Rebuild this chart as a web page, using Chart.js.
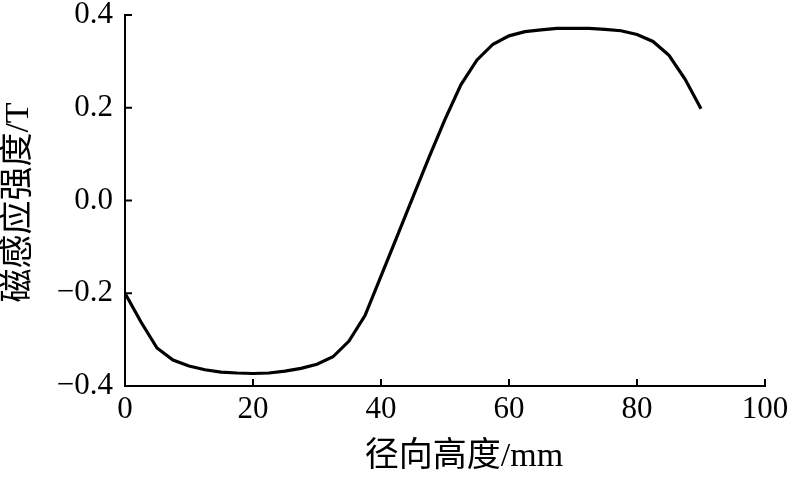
<!DOCTYPE html>
<html>
<head>
<meta charset="utf-8">
<script src="https://cdn.jsdelivr.net/npm/chart.js@4/dist/chart.umd.min.js"></script>
<style>
  html, body { margin: 0; padding: 0; background: #fff; }
  #wrap { width: 800px; height: 480px; }
</style>
</head>
<body>
<div id="wrap"><canvas id="c" width="800" height="480"></canvas></div>
<script>
// Data
const heights = [0, 2.5, 5, 7.5, 10, 12.5, 15, 17.5, 20, 22.5, 25, 27.5, 30, 32.5, 35, 37.5, 40, 42.5, 45, 47.5, 50, 52.5, 55, 57.5, 60, 62.5, 65, 67.5, 70, 72.5, 75, 77.5, 80, 82.5, 85, 87.5, 90];
const fluxDensity = [-0.200, -0.262, -0.318, -0.344, -0.357, -0.365, -0.370, -0.372, -0.373, -0.372, -0.368, -0.362, -0.353, -0.337, -0.303, -0.248, -0.163, -0.078, 0.008, 0.093, 0.175, 0.250, 0.303, 0.337, 0.355, 0.364, 0.368, 0.371, 0.371, 0.371, 0.369, 0.366, 0.358, 0.343, 0.313, 0.262, 0.198];
const xTickValues = [0, 20, 40, 60, 80, 100];
const yTickValues = [-0.4, -0.2, 0.0, 0.2, 0.4];
const xTitle = '径向高度/mm';
const yTitle = '磁感应强度/T';

const tickFont = { family: '"Liberation Serif", "Times New Roman", serif', size: 31 };
const titleFontStr = '34px "Liberation Serif", "Noto Sans CJK SC", serif';

const points = heights.map((h, i) => ({ x: h, y: fluxDensity[i] }));

const decorPlugin = {
  id: 'decor',
  afterDraw(chart) {
    const { ctx, chartArea, scales } = chart;
    const xs = scales.x, ys = scales.y;
    ctx.save();
    ctx.strokeStyle = '#000';
    ctx.lineWidth = 2;
    // inward tick marks
    xs.ticks.forEach(t => {
      const px = xs.getPixelForValue(t.value);
      ctx.beginPath();
      ctx.moveTo(px, chartArea.bottom);
      ctx.lineTo(px, chartArea.bottom - 7);
      ctx.stroke();
    });
    ys.ticks.forEach(t => {
      const py = ys.getPixelForValue(t.value);
      ctx.beginPath();
      ctx.moveTo(chartArea.left, py);
      ctx.lineTo(chartArea.left + 7, py);
      ctx.stroke();
    });
    // axis titles
    ctx.fillStyle = '#000';
    ctx.font = titleFontStr;
    ctx.textAlign = 'center';
    ctx.textBaseline = 'middle';
    ctx.fillText(xTitle, chartArea.left + 339, 457);
    ctx.translate(19, (chartArea.top + chartArea.bottom) / 2 + 2);
    ctx.rotate(-Math.PI / 2);
    ctx.fillText(yTitle, 0, 0);
    ctx.restore();
  }
};

new Chart(document.getElementById('c'), {
  type: 'scatter',
  data: {
    datasets: [{
      data: points,
      showLine: true,
      borderColor: '#000',
      borderWidth: 3.2,
      pointRadius: 0,
      pointHoverRadius: 0,
      tension: 0,
      fill: false
    }]
  },
  options: {
    responsive: false,
    animation: false,
    events: [],
    layout: { padding: { left: 0, top: 15, right: 35, bottom: 0 } },
    plugins: { legend: { display: false }, tooltip: { enabled: false } },
    scales: {
      x: {
        type: 'linear',
        min: 0, max: 100,
        afterFit: s => { s.height = 94; s.paddingLeft = 0; s.paddingRight = 0; },
        afterBuildTicks: s => { s.ticks = xTickValues.map(v => ({ value: v })); },
        grid: { drawOnChartArea: false, drawTicks: false },
        border: { display: true, color: '#000', width: 2 },
        ticks: {
          color: '#000', font: tickFont, padding: 5, maxRotation: 0,
          callback: v => String(v)
        }
      },
      y: {
        type: 'linear',
        min: -0.4, max: 0.4,
        afterFit: s => { s.width = 125; s.paddingTop = 0; s.paddingBottom = 0; },
        afterBuildTicks: s => { s.ticks = yTickValues.map(v => ({ value: v })); },
        grid: { drawOnChartArea: false, drawTicks: false },
        border: { display: true, color: '#000', width: 2 },
        ticks: {
          color: '#000', font: tickFont, padding: 12,
          callback: v => (v < -1e-9 ? '\u2212' : '') + Math.abs(v).toFixed(1)
        }
      }
    }
  },
  plugins: [decorPlugin]
});
</script>
</body>
</html>
